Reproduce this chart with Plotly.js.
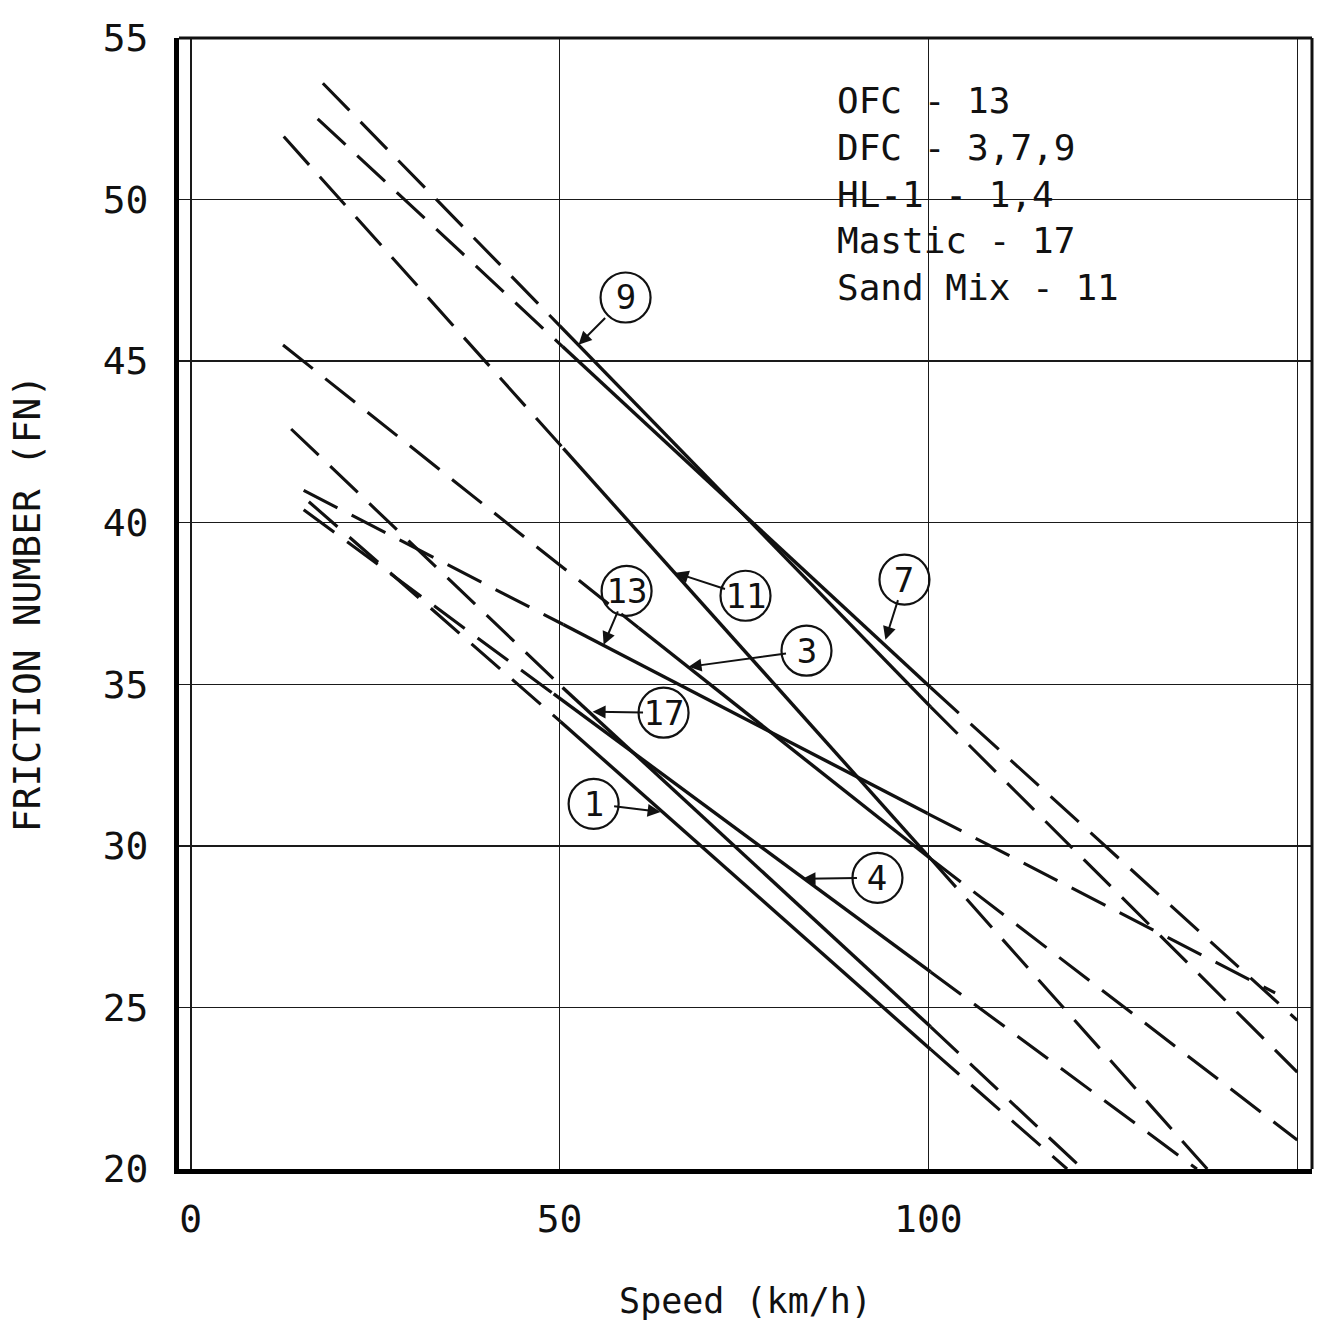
<!DOCTYPE html>
<html><head><meta charset="utf-8">
<script src="https://cdn.plot.ly/plotly-3.0.1.min.js"></script>
<style>html,body{margin:0;padding:0;background:#fff}</style>
</head><body><div id="chart" style="width:1320px;height:1326px"></div>
<script>
// Curve identifiers (sections)
const curveIds    = ['9', '7', '11', '3', '13', '17', '4', '1'];
// Extrapolated (dashed) start, measured (solid) range, extrapolated end
const dashStartX  = [17.9, 17.2, 12.6, 12.5, 15.3, 13.6, 15.3, 16.0];
const dashStartY  = [53.6, 52.5, 51.95, 45.5, 41.0, 42.9, 40.4, 40.65];
const solidStartX = [50.0, 50.4, 50.5, 60.7, 50.5, 50.4, 49.2, 50.1];
const solidStartY = [46.1, 45.45, 42.3, 36.75, 36.85, 34.9, 34.7, 33.85];
const solidEndX   = [100.3, 100.3, 100.3, 100.3, 99.9, 100.3, 100.3, 100.3];
const solidEndY   = [34.3, 34.9, 29.6, 29.6, 31.0, 24.4, 26.1, 23.7];
const dashEndX    = [150, 150, 137.8, 150, 147, 120.9, 136.4, 118.8];
const dashEndY    = [23.0, 24.6, 20, 20.9, 25.45, 20, 20, 20];

// Legend text lines
const legendLines = ['OFC - 13', 'DFC - 3,7,9', 'HL-1 - 1,4', 'Mastic - 17', 'Sand Mix - 11'];

// Tick labels
const xTickVals = [0, 50, 100, 150];
const xTickText = ['0', '50', '100', ''];
const yTickVals = [20, 25, 30, 35, 40, 45, 50, 55];

// Label placement (circle centre and arrow tip) for each curve
const labelCX = [58.94, 96.75, 75.20, 83.47, 59.08, 64.09, 93.09, 54.61];
const labelCY = [46.97, 38.24, 37.74, 36.04, 37.89, 34.12, 29.01, 31.30];
const tipX    = [52.57, 94.17, 65.72, 67.48, 55.96, 54.47, 82.93, 63.69];
const tipY    = [45.51, 36.38, 38.45, 35.54, 36.22, 34.15, 28.98, 31.05];

const INK = '#111';
const MONO = 'DejaVu Sans Mono, Liberation Mono, monospace';

const traces = [];
curveIds.forEach((id, i) => {
  traces.push({
    type: 'scatter', mode: 'lines', name: 'Curve ' + id + ' (extrapolated)',
    x: [dashStartX[i], solidStartX[i], null, solidEndX[i], dashEndX[i]],
    y: [dashStartY[i], solidStartY[i], null, solidEndY[i], dashEndY[i]],
    connectgaps: false,
    line: {color: INK, width: 3.1, dash: '38px,16px'},
    hoverinfo: 'skip', showlegend: false
  });
  traces.push({
    type: 'scatter', mode: 'lines', name: 'Curve ' + id,
    x: [solidStartX[i], solidEndX[i]],
    y: [solidStartY[i], solidEndY[i]],
    line: {color: INK, width: 3.4},
    showlegend: false
  });
});

const shapes = [
  {type: 'line', xref: 'paper', yref: 'paper', x0: 0, x1: 1, y0: 1, y1: 1, line: {color: INK, width: 3}},
  {type: 'line', xref: 'paper', yref: 'paper', x0: 1, x1: 1, y0: 0, y1: 1, line: {color: INK, width: 3}}
];
const annotations = [];
curveIds.forEach((id, i) => {
  shapes.push({
    type: 'circle', xref: 'x', yref: 'y',
    xsizemode: 'pixel', ysizemode: 'pixel',
    xanchor: labelCX[i], yanchor: labelCY[i],
    x0: -25, x1: 25, y0: -25, y1: 25,
    line: {color: INK, width: 2.2}, fillcolor: 'rgba(0,0,0,0)'
  });
  annotations.push({
    x: tipX[i], y: tipY[i], xref: 'x', yref: 'y',
    ax: labelCX[i], ay: labelCY[i], axref: 'x', ayref: 'y',
    text: id, showarrow: true,
    arrowhead: 2, arrowsize: 1.3, arrowwidth: 2, arrowcolor: INK,
    width: 40, height: 40, borderpad: 0,
    font: {family: MONO, size: 34, color: INK}
  });
});
annotations.push({
  xref: 'paper', yref: 'paper', x: (835 - 179) / (1312 - 179), y: 1 - (78 - 38) / (1169 - 38),
  xanchor: 'left', yanchor: 'top', align: 'left', showarrow: false,
  text: legendLines.join('<br>'),
  font: {family: MONO, size: 36, color: INK}
});

const layout = {
  width: 1320, height: 1326,
  margin: {l: 179, r: 8, t: 38, b: 157},
  paper_bgcolor: '#fff', plot_bgcolor: '#fff',
  showlegend: false,
  xaxis: {
    range: [-1.6, 152], tickvals: xTickVals, ticktext: xTickText,
    showgrid: true, gridcolor: '#1a1a1a', gridwidth: 1.5, zeroline: false,
    showline: true, linecolor: '#000', linewidth: 5, ticks: '',
    tickfont: {family: MONO, size: 38, color: INK}, ticklabelstandoff: 12,
    automargin: false,
    title: {text: 'Speed (km/h)', font: {family: MONO, size: 35, color: INK}, standoff: 50}
  },
  yaxis: {
    range: [20, 55], tickvals: yTickVals,
    showgrid: true, gridcolor: '#1a1a1a', gridwidth: 1.5, zeroline: false,
    showline: true, linecolor: '#000', linewidth: 5, ticks: '',
    tickfont: {family: MONO, size: 38, color: INK}, ticklabelstandoff: 18,
    automargin: false,
    title: {text: 'FRICTION NUMBER (FN)', font: {family: MONO, size: 38, color: INK}, standoff: 52}
  },
  shapes: shapes,
  annotations: annotations
};

Plotly.newPlot('chart', traces, layout, {displayModeBar: false, staticPlot: true});
</script>
</body></html>
